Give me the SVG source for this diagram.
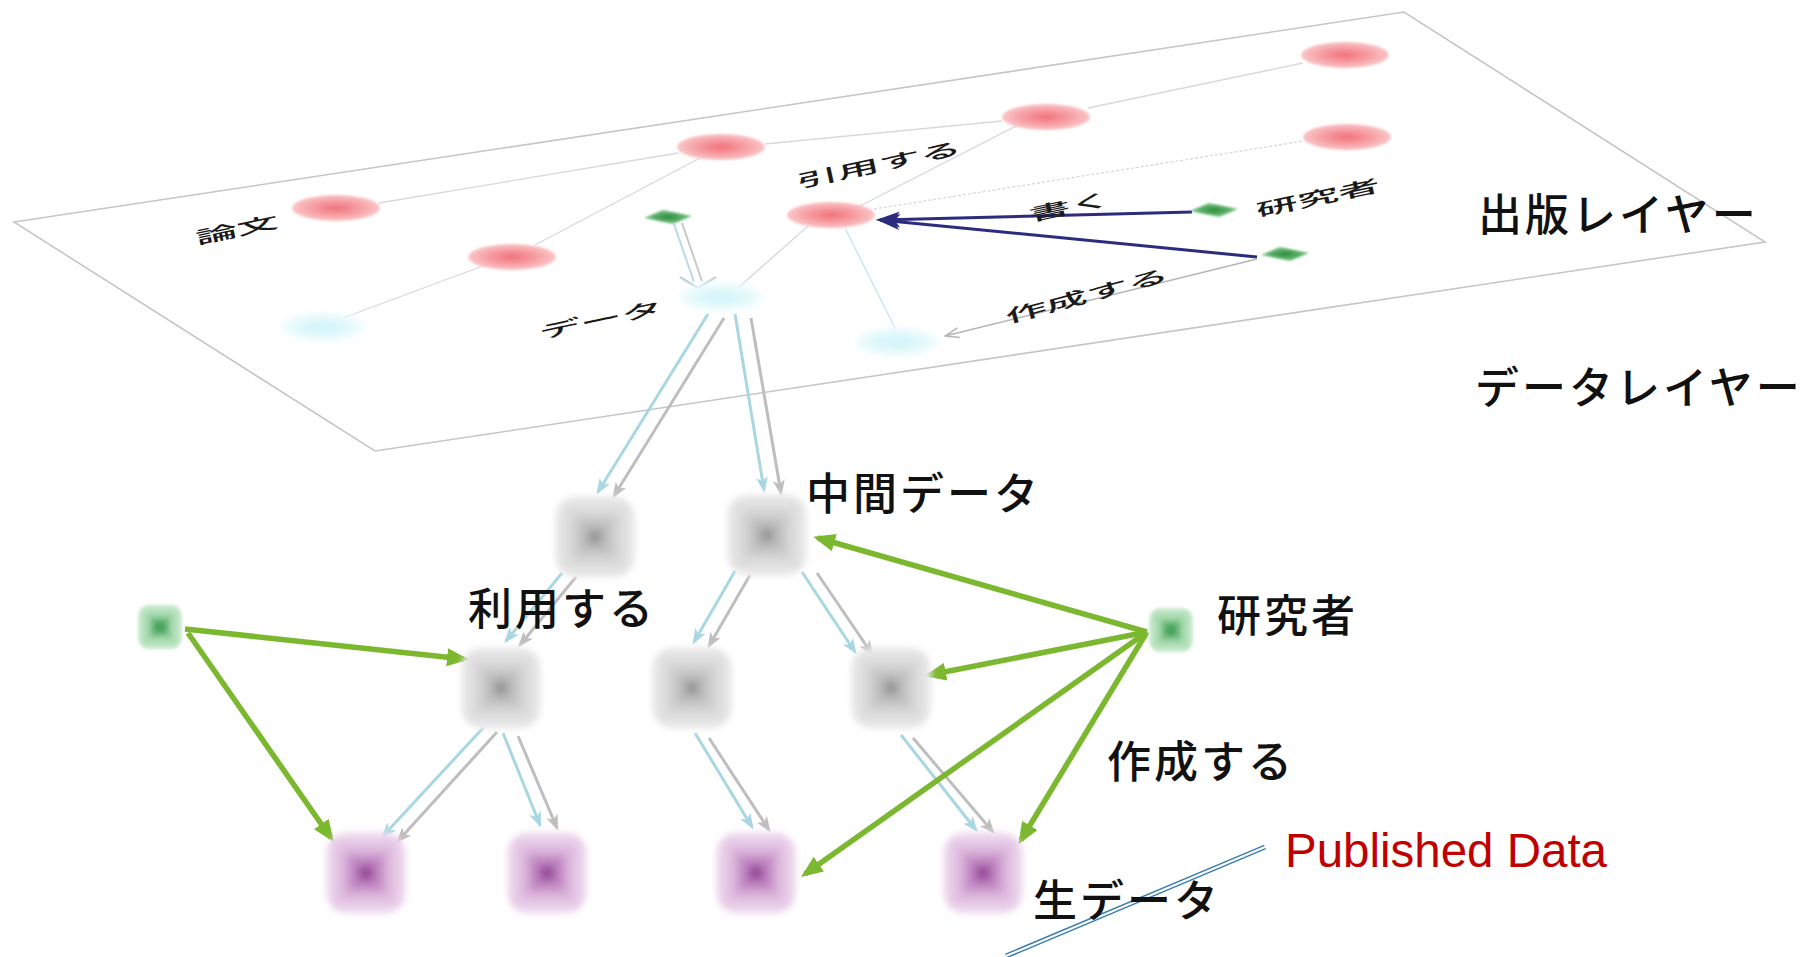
<svg xmlns="http://www.w3.org/2000/svg" width="1810" height="957" viewBox="0 0 1810 957">
<style>
.tl{stroke:#d8d8d8;stroke-width:1.3;fill:none}
.tc{stroke:#c4e6eb;stroke-width:1.3;fill:none}
.ga{stroke:#7cb82f;stroke-width:5.5;fill:none;marker-end:url(#mGreen)}
.ab{stroke:#a9d7e1;stroke-width:3;fill:none;marker-end:url(#mBlue)}
.ag{stroke:#bebebe;stroke-width:3;fill:none;marker-end:url(#mGray)}
.nv{stroke:#2b2c7e;stroke-width:3;fill:none;marker-end:url(#mNavy)}
.big{font-family:"Noto Sans CJK JP","Noto Sans CJK SC",sans-serif;font-size:44px;font-weight:500;letter-spacing:3px;fill:#111}
.sm{font-family:"Noto Sans CJK JP","Noto Sans CJK SC",sans-serif;font-size:42px;font-weight:500;fill:#1a1a1a;text-anchor:middle}
</style>
<defs>
<linearGradient id="gV" gradientUnits="userSpaceOnUse" x1="0" y1="-40" x2="0" y2="40">
<stop offset="0" stop-color="#ececec"/><stop offset="0.22" stop-color="#d6d6d6"/><stop offset="0.4" stop-color="#b4b4b4"/><stop offset="0.5" stop-color="#838383"/><stop offset="0.6" stop-color="#b4b4b4"/><stop offset="0.78" stop-color="#d6d6d6"/><stop offset="1" stop-color="#ececec"/>
</linearGradient>
<linearGradient id="gH" gradientUnits="userSpaceOnUse" x1="-40" y1="0" x2="40" y2="0">
<stop offset="0" stop-color="#ececec"/><stop offset="0.22" stop-color="#d6d6d6"/><stop offset="0.4" stop-color="#b4b4b4"/><stop offset="0.5" stop-color="#838383"/><stop offset="0.6" stop-color="#b4b4b4"/><stop offset="0.78" stop-color="#d6d6d6"/><stop offset="1" stop-color="#ececec"/>
</linearGradient>
<linearGradient id="pV" gradientUnits="userSpaceOnUse" x1="0" y1="-40" x2="0" y2="40">
<stop offset="0" stop-color="#f1e0f1"/><stop offset="0.22" stop-color="#dcb6dc"/><stop offset="0.4" stop-color="#b372b5"/><stop offset="0.5" stop-color="#7e2a82"/><stop offset="0.6" stop-color="#b372b5"/><stop offset="0.78" stop-color="#dcb6dc"/><stop offset="1" stop-color="#f1e0f1"/>
</linearGradient>
<linearGradient id="pH" gradientUnits="userSpaceOnUse" x1="-40" y1="0" x2="40" y2="0">
<stop offset="0" stop-color="#f1e0f1"/><stop offset="0.22" stop-color="#dcb6dc"/><stop offset="0.4" stop-color="#b372b5"/><stop offset="0.5" stop-color="#7e2a82"/><stop offset="0.6" stop-color="#b372b5"/><stop offset="0.78" stop-color="#dcb6dc"/><stop offset="1" stop-color="#f1e0f1"/>
</linearGradient>
<linearGradient id="qV" gradientUnits="userSpaceOnUse" x1="0" y1="-40" x2="0" y2="40">
<stop offset="0" stop-color="#d2eed6"/><stop offset="0.25" stop-color="#9cd4a5"/><stop offset="0.5" stop-color="#24903c"/><stop offset="0.75" stop-color="#9cd4a5"/><stop offset="1" stop-color="#d2eed6"/>
</linearGradient>
<linearGradient id="qH" gradientUnits="userSpaceOnUse" x1="-40" y1="0" x2="40" y2="0">
<stop offset="0" stop-color="#d2eed6"/><stop offset="0.25" stop-color="#9cd4a5"/><stop offset="0.5" stop-color="#24903c"/><stop offset="0.75" stop-color="#9cd4a5"/><stop offset="1" stop-color="#d2eed6"/>
</linearGradient>
<radialGradient id="redG"><stop offset="0" stop-color="#f2727b"/><stop offset="0.55" stop-color="#f69ea3"/><stop offset="1" stop-color="#fac6c8"/></radialGradient>
<radialGradient id="cyG"><stop offset="0" stop-color="#cff4f9"/><stop offset="0.6" stop-color="#e1f8fb"/><stop offset="1" stop-color="#f3fcfd"/></radialGradient>
<radialGradient id="grG"><stop offset="0" stop-color="#2a8a3a"/><stop offset="1" stop-color="#7fc98a"/></radialGradient>
<clipPath id="rr"><rect x="-40" y="-41" width="80" height="82" rx="22"/></clipPath>
<filter id="soft" x="-30%" y="-30%" width="160%" height="160%"><feGaussianBlur stdDeviation="3"/></filter>
<filter id="b1" x="-30%" y="-60%" width="160%" height="220%"><feGaussianBlur stdDeviation="1.3"/></filter>
<filter id="b3" x="-40%" y="-100%" width="180%" height="300%"><feGaussianBlur stdDeviation="3"/></filter>
<g id="nGray" filter="url(#soft)"><g clip-path="url(#rr)">
<polygon points="-41,-41 41,-41 0,0" fill="url(#gV)"/><polygon points="-41,41 41,41 0,0" fill="url(#gV)"/>
<polygon points="-41,-41 -41,41 0,0" fill="url(#gH)"/><polygon points="41,-41 41,41 0,0" fill="url(#gH)"/>
</g></g>
<g id="nPurple" filter="url(#soft)"><g clip-path="url(#rr)">
<polygon points="-41,-41 41,-41 0,0" fill="url(#pV)"/><polygon points="-41,41 41,41 0,0" fill="url(#pV)"/>
<polygon points="-41,-41 -41,41 0,0" fill="url(#pH)"/><polygon points="41,-41 41,41 0,0" fill="url(#pH)"/>
</g></g>
<g id="nGreen" filter="url(#soft)"><g clip-path="url(#rr)">
<polygon points="-41,-41 41,-41 0,0" fill="url(#qV)"/><polygon points="-41,41 41,41 0,0" fill="url(#qV)"/>
<polygon points="-41,-41 -41,41 0,0" fill="url(#qH)"/><polygon points="41,-41 41,41 0,0" fill="url(#qH)"/>
</g></g>
<ellipse id="eRed" cx="0" cy="0" rx="44" ry="13" fill="url(#redG)" filter="url(#b1)"/>
<ellipse id="eCyan" cx="0" cy="0" rx="42" ry="14" fill="url(#cyG)" filter="url(#b3)"/>
<polygon id="sGreen" points="-24,1 -5,-7 24,-1 5,7" fill="url(#grG)" filter="url(#b1)"/>
<marker id="mGreen" markerUnits="userSpaceOnUse" markerWidth="24" markerHeight="18" refX="17" refY="9" orient="auto"><path d="M0,0 L22,9 L0,18 z" fill="#7cb82f"/></marker>
<marker id="mBlue" markerUnits="userSpaceOnUse" markerWidth="16" markerHeight="12" refX="13" refY="6" orient="auto"><path d="M0,0 L16,6 L0,12 L4,6 z" fill="#a9d7e1"/></marker>
<marker id="mGray" markerUnits="userSpaceOnUse" markerWidth="16" markerHeight="12" refX="13" refY="6" orient="auto"><path d="M0,0 L16,6 L0,12 L4,6 z" fill="#bebebe"/></marker>
<marker id="mNavy" markerUnits="userSpaceOnUse" markerWidth="24" markerHeight="16" refX="20" refY="8" orient="auto"><path d="M0,0 L24,8 L0,16 L6,8 z" fill="#2b2c7e"/></marker>
<marker id="mOpen" markerUnits="userSpaceOnUse" markerWidth="16" markerHeight="12" refX="15" refY="6" orient="auto"><path d="M1,1 L15,6 L1,11" fill="none" stroke="#b5b5b5" stroke-width="1.5"/></marker>
</defs>
<rect width="1810" height="957" fill="#ffffff"/>

<g id="plane">
<polygon points="14,222 1404,12 1765,242 375,451" fill="none" stroke="#c6c6c6" stroke-width="1.6"/>
</g>

<g id="connectors">
<path class="tl" d="M379,203 L678,153"/>
<path class="tl" d="M765,144 L1002,121"/>
<path class="tl" d="M1088,108 L1303,63"/>
<path class="tl" d="M874,209 L1304,141" stroke-dasharray="3 2"/>
<path class="tl" d="M860,206 L1020,124"/>
<path class="tl" d="M700,158 L535,245"/>
<path class="tl" d="M488,264 L343,318"/>
<path class="tl" d="M808,226 L738,288"/>
<path class="tc" d="M845,228 L896,330"/>
<path d="M674,224 L694,282" stroke="#b9dbe3" stroke-width="2" fill="none"/>
<path d="M682,223 L702,281" stroke="#c9c9c9" stroke-width="2" fill="none"/>
<polyline points="680,277 698,288 716,277" stroke="#c3d3da" stroke-width="2.5" fill="none"/>
<path class="nv" d="M1192,212 L880,220"/>
<path class="nv" d="M1257,257 L880,220"/>
<path d="M1257,259 L945,336" stroke="#b5b5b5" stroke-width="1.5" fill="none" marker-end="url(#mOpen)"/>
<path class="ab" d="M708,314 L598,492"/><path class="ag" d="M724,318 L614,496"/>
<path class="ab" d="M735,314 L764,490"/><path class="ag" d="M751,318 L781,493"/>
<path class="ab" d="M562,573 L506,641"/><path class="ag" d="M576,577 L520,645"/>
<path class="ab" d="M735,571 L694,642"/><path class="ag" d="M750,575 L709,646"/>
<path class="ab" d="M802,572 L855,652"/><path class="ag" d="M817,573 L872,654"/>
<path class="ab" d="M483,728 L383,836"/><path class="ag" d="M497,732 L398,841"/>
<path class="ab" d="M503,733 L540,825"/><path class="ag" d="M518,736 L557,828"/>
<path class="ab" d="M695,733 L752,827"/><path class="ag" d="M709,738 L769,830"/>
<path class="ab" d="M901,735 L976,830"/><path class="ag" d="M913,738 L993,832"/>
<path class="ga" d="M185,629 L464,659"/>
<path class="ga" d="M188,633 L331,838"/>
<path class="ga" d="M1147,632 L818,538"/>
<path class="ga" d="M1147,632 L929,675"/>
<path class="ga" d="M1147,632 L805,874"/>
<path class="ga" d="M1147,632 L1021,840"/>
<path d="M1265,847 L1006,956" stroke="#3a7db3" stroke-width="5" fill="none"/>
<path d="M1265,847 L1006,956" stroke="#ffffff" stroke-width="2" fill="none"/>
</g>

<g id="paper-1"><use href="#eRed" x="336" y="208"/><text class="sm" transform="translate(237,230) rotate(-12) scale(1,0.42)" dy="0.35em">論文</text></g>
<g id="paper-2"><use href="#eRed" x="721" y="147"/></g>
<g id="paper-3"><use href="#eRed" x="1046" y="117"/></g>
<g id="paper-4"><use href="#eRed" x="1345" y="55"/></g>
<g id="paper-5"><use href="#eRed" x="1347" y="137"/></g>
<g id="paper-6"><use href="#eRed" x="831" y="215"/></g>
<g id="paper-7"><use href="#eRed" x="512" y="257"/></g>
<g id="data-1"><use href="#eCyan" x="323" y="327"/></g>
<g id="data-2"><use href="#eCyan" x="721" y="297"/><text class="sm" transform="translate(601,320) rotate(-12) scale(1,0.42)" dy="0.35em">データ</text></g>
<g id="data-3"><use href="#eCyan" x="897" y="342"/></g>
<g id="researcher-top-1"><use href="#sGreen" x="668" y="217"/></g>
<g id="researcher-top-2"><use href="#sGreen" x="1214" y="210"/><text class="sm" transform="translate(1318,198) rotate(-12) scale(1,0.42)" dy="0.35em">研究者</text></g>
<g id="researcher-top-3"><use href="#sGreen" x="1285" y="254"/></g>
<g id="label-cite"><text class="sm" transform="translate(879,165) rotate(-12) scale(1,0.42)" dy="0.35em">引用する</text></g>
<g id="label-write"><text class="sm" transform="translate(1070,207) rotate(-12) scale(1,0.42)" dy="0.35em">書く</text></g>
<g id="label-create-top"><text class="sm" transform="translate(1087,296) rotate(-15) scale(1,0.42)" dy="0.35em">作成する</text></g>

<g id="layer-pub"><text class="big" x="1478" y="231">出版レイヤー</text></g>
<g id="layer-data"><text class="big" x="1475" y="404">データレイヤー</text></g>

<g id="node-a"><use href="#nGray" x="595" y="537"/></g>
<g id="node-b"><use href="#nGray" x="767" y="535"/><text class="big" x="806" y="510">中間データ</text></g>
<g id="node-c"><use href="#nGray" x="501" y="688"/><text class="big" x="468" y="625">利用する</text></g>
<g id="node-d"><use href="#nGray" x="692" y="688"/></g>
<g id="node-e"><use href="#nGray" x="891" y="688"/></g>
<g id="raw-1"><use href="#nPurple" x="366" y="873"/></g>
<g id="raw-2"><use href="#nPurple" x="547" y="873"/></g>
<g id="raw-3"><use href="#nPurple" x="756" y="873"/></g>
<g id="raw-4"><use href="#nPurple" x="983" y="873"/><text class="big" x="1033" y="917">生データ</text></g>
<g id="researcher-left"><use href="#nGreen" transform="translate(160,627) scale(0.55)"/></g>
<g id="researcher-right"><use href="#nGreen" transform="translate(1171,630) scale(0.55)"/><text class="big" x="1217" y="632">研究者</text></g>
<g id="label-create"><text class="big" x="1107" y="778">作成する</text></g>
<g id="published-data"><text x="1285" y="867" font-family="Liberation Sans, Arial, sans-serif" font-size="48" fill="#c00000" textLength="322" lengthAdjust="spacingAndGlyphs">Published Data</text></g>
</svg>
